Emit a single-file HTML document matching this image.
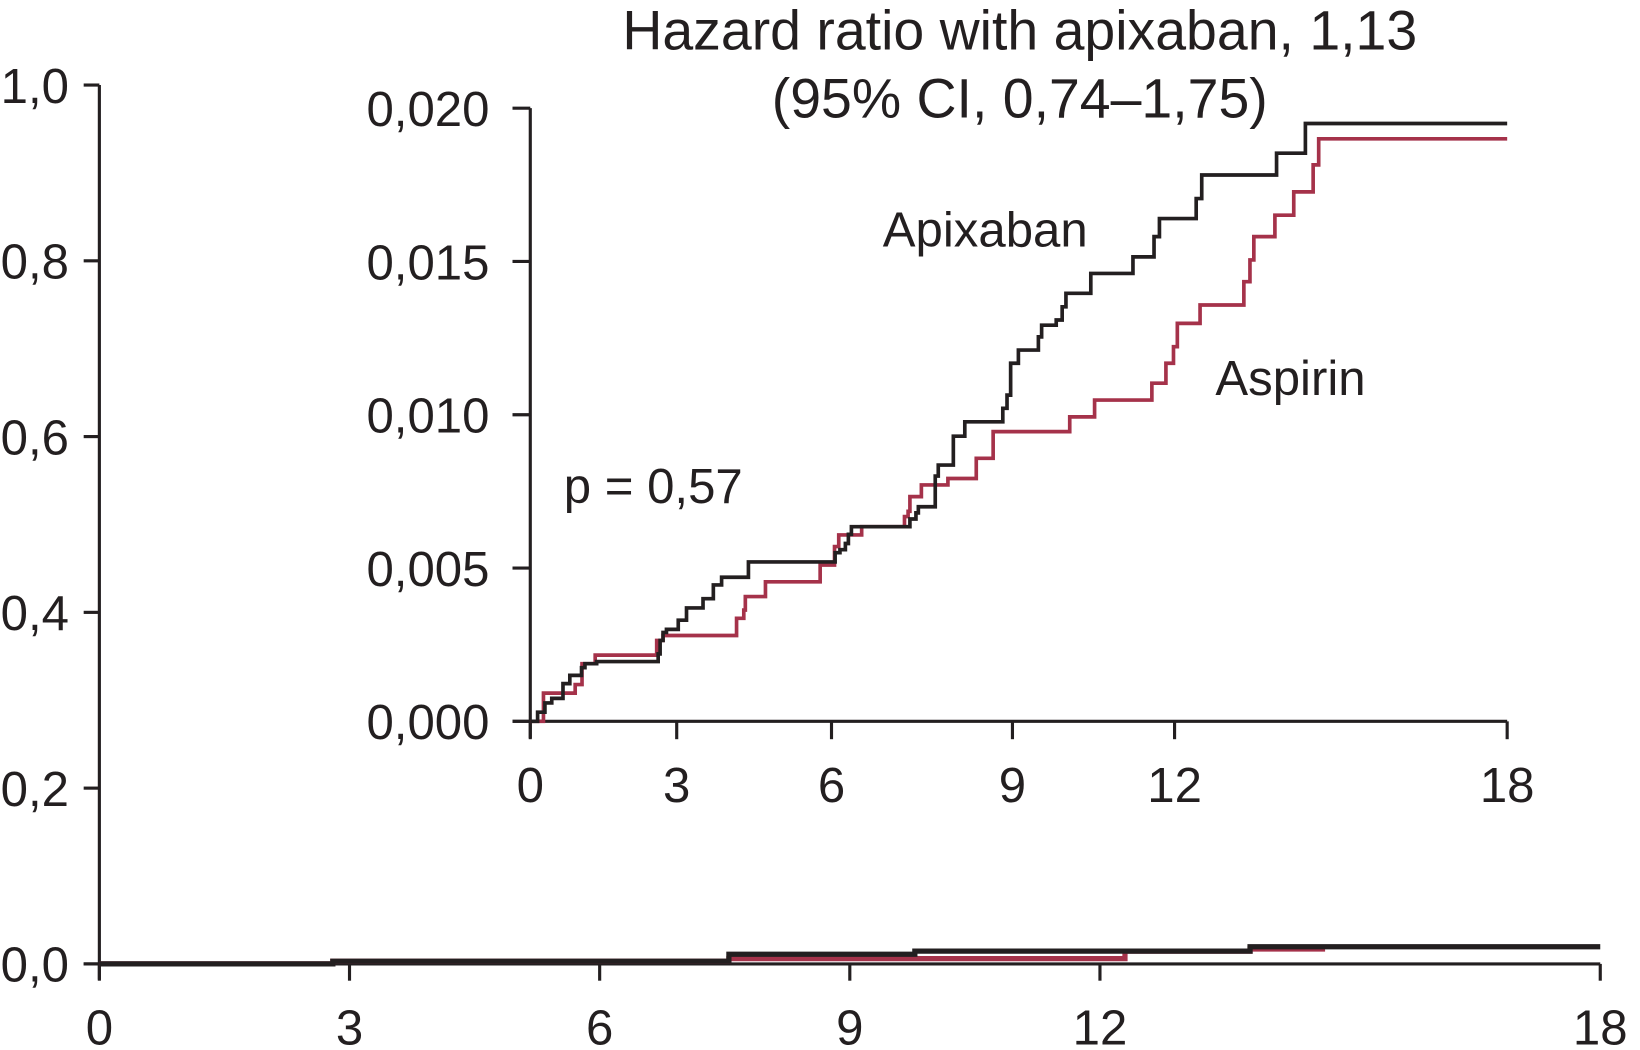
<!DOCTYPE html>
<html><head><meta charset="utf-8"><style>
html,body{margin:0;padding:0;background:#fff;}
svg{display:block;}
text{font-family:"Liberation Sans",Arial,sans-serif;fill:#231f20;}
</style></head><body>
<svg id="chart" width="1640" height="1050" viewBox="0 0 1568 1000" preserveAspectRatio="none" xmlns="http://www.w3.org/2000/svg">
<g id="main"></g>
<g id="inset"></g>
<text x="975" y="47" text-anchor="middle" font-size="53">Hazard ratio with apixaban, 1,13</text>
<text x="975" y="112" text-anchor="middle" font-size="53">(95% CI, 0,74–1,75)</text>
<text x="844" y="235" font-size="47">Apixaban</text>
<text x="1162" y="376" font-size="47">Aspirin</text>
<text x="539" y="479" font-size="47">p = 0,57</text>
</svg>
<script>
// main plot data
const mainXTicks = [0,3,6,9,12,18];
const mainYTicks = [0,0.2,0.4,0.6,0.8,1.0];
const mainYTickLabels = ["0,0","0,2","0,4","0,6","0,8","1,0"];
const mainApixT = [0,2.8,7.55,9.78,13.8,18];
const mainApixV = [0,0.003,0.011,0.0145,0.0195,0.0195];
const mainAspT = [0,2.8,7.55,12.3,13.8,14.7];
const mainAspV = [0,0.003,0.006,0.0145,0.017,0.017];
// inset data
const insetXTicks = [0,3,6,9,12,18];
const insetYTicks = [0,0.005,0.010,0.015,0.020];
const insetYTickLabels = ["0,000","0,005","0,010","0,015","0,020"];
const apixT = [0,0.15,0.3,0.44,0.67,0.81,1.05,1.12,1.36,2.62,2.66,2.72,2.79,3.03,3.19,3.51,3.71,3.87,4.39,6.06,6.14,6.23,6.28,6.33,7.30,7.40,7.44,7.72,7.77,8.02,8.21,8.84,8.91,8.97,9.11,9.48,9.54,9.81,9.92,9.99,10.45,11.23,11.62,11.72,12.39,12.49,13.84,14.36,18];
const apixV = [0,0.0003,0.0006,0.00075,0.00123,0.0015,0.00175,0.00188,0.00195,0.0022,0.00264,0.0029,0.003,0.0033,0.0037,0.004,0.00445,0.0047,0.0052,0.0055,0.0056,0.0058,0.0061,0.00635,0.0066,0.0068,0.007,0.008,0.00836,0.0093,0.00977,0.01021,0.01064,0.01168,0.01211,0.01254,0.01292,0.01309,0.01352,0.01396,0.01461,0.01515,0.01581,0.0164,0.01705,0.01782,0.01853,0.0195,0.0195];
const aspT = [0,0.27,0.92,1.06,1.33,2.59,2.72,4.16,4.30,4.33,4.72,5.78,6.05,6.12,6.50,7.21,7.27,7.30,7.49,7.93,8.40,8.68,10.06,10.52,11.58,11.84,11.98,12.05,12.46,13.25,13.36,13.43,13.81,14.15,14.50,14.60,18];
const aspV = [0,0.00092,0.0012,0.00188,0.00216,0.00264,0.0028,0.00336,0.00363,0.00407,0.00455,0.0051,0.0057,0.00608,0.00635,0.00668,0.00685,0.00733,0.00771,0.00792,0.00858,0.00945,0.00993,0.01048,0.01103,0.01168,0.01222,0.01298,0.01358,0.01434,0.01505,0.01581,0.01651,0.01727,0.01815,0.019,0.019];

const NS="http://www.w3.org/2000/svg";
function mk(tag, attrs, parent){const e=document.createElementNS(NS,tag);for(const k in attrs)e.setAttribute(k,attrs[k]);parent.appendChild(e);return e;}
// main axis functions
const mx = t => 95 + t*(1530-95)/18;
const my = v => 918 - v*(918-81);
// inset axis functions (piecewise scale as printed)
const ixDom=[0,3,6,9,12,18], ixRng=[507,647,795,968,1123,1441];
function ix(t){for(let i=0;i<ixDom.length-1;i++){if(t<=ixDom[i+1]||i===ixDom.length-2){const f=(t-ixDom[i])/(ixDom[i+1]-ixDom[i]);return ixRng[i]+f*(ixRng[i+1]-ixRng[i]);}}}
const iy = v => 687 - v*(687-103)/0.02;
function stepPath(T,V,fx,fy){let d="M"+fx(T[0])+","+fy(V[0]);for(let i=1;i<T.length;i++){d+=" H"+fx(T[i])+" V"+fy(V[i]);}return d;}

const main=document.getElementById('main');
const inset=document.getElementById('inset');
const AX="#231f20";
// main axes
let el=mk('line',{x1:95,y1:81,x2:95,y2:933,stroke:AX,'stroke-width':3},main);


el=mk('line',{x1:80,y1:918,x2:1530,y2:918,stroke:AX,'stroke-width':3},main);


mainYTicks.forEach((v,i)=>{
  const t=mk('line',{x1:80,y1:my(v),x2:95,y2:my(v),stroke:AX,'stroke-width':3},main);
  
  
  const l=mk('text',{x:66,y:my(v)+17,'text-anchor':'end','font-size':47},main);
  l.textContent=mainYTickLabels[i];
  
  
});
mainXTicks.forEach(t=>{
  const tk=mk('line',{x1:mx(t),y1:918,x2:mx(t),y2:934,stroke:AX,'stroke-width':3},main);
  
  
  const l=mk('text',{x:mx(t),y:995,'text-anchor':'middle','font-size':47},main);
  l.textContent=String(t);
  
  
});
el=mk('path',{d:stepPath(mainAspT,mainAspV,mx,my),fill:'none',stroke:'#a5324a','stroke-width':5},main);


el=mk('path',{d:stepPath(mainApixT,mainApixV,mx,my),fill:'none',stroke:'#231f20','stroke-width':5},main);



// inset axes
el=mk('line',{x1:507,y1:103,x2:507,y2:703,stroke:AX,'stroke-width':3},inset);


el=mk('line',{x1:490,y1:687,x2:1441,y2:687,stroke:AX,'stroke-width':3},inset);


insetYTicks.forEach((v,i)=>{
  const t=mk('line',{x1:490,y1:iy(v),x2:507,y2:iy(v),stroke:AX,'stroke-width':3},inset);
  
  
  const l=mk('text',{x:468,y:iy(v)+17,'text-anchor':'end','font-size':47},inset);
  l.textContent=insetYTickLabels[i];
  
  
});
insetXTicks.forEach(t=>{
  const tk=mk('line',{x1:ix(t),y1:687,x2:ix(t),y2:704,stroke:AX,'stroke-width':3},inset);
  
  
  const l=mk('text',{x:ix(t),y:764,'text-anchor':'middle','font-size':47},inset);
  l.textContent=String(t);
  
  
});
el=mk('path',{d:stepPath(aspT,aspV,ix,iy),fill:'none',stroke:'#a5324a','stroke-width':3.5},inset);


el=mk('path',{d:stepPath(apixT,apixV,ix,iy),fill:'none',stroke:'#231f20','stroke-width':3.5},inset);


</script>
</body></html>
